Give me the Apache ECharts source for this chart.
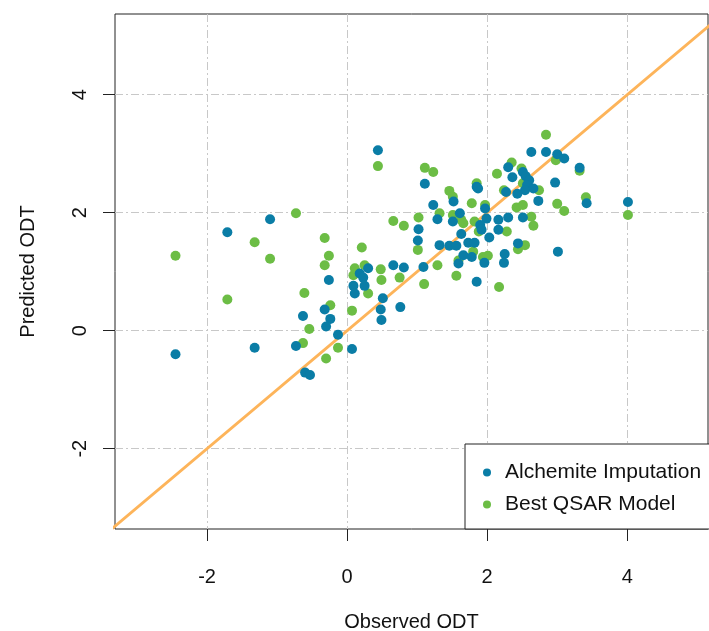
<!DOCTYPE html>
<html>
<head>
<meta charset="utf-8">
<script src="https://cdn.jsdelivr.net/npm/echarts@6/dist/echarts.min.js"></script>
<style>
html,body{margin:0;padding:0;background:#fff;}
#chart{width:709px;height:631px;}
</style>
</head>
<body>
<div id="chart"></div>
<script>
// Alchemite Imputation (observed, predicted)
var alchemiteX = [-2.45,-1.71,-1.32,-1.10,-0.26,-0.32,-0.24,-0.63,-0.30,-0.13,-0.73,-0.60,-0.53,0.07,0.48,0.49,0.76,0.51,0.18,0.23,0.30,0.09,0.11,0.25,0.66,0.81,1.09,1.02,1.01,1.32,1.46,1.56,1.63,1.73,1.82,1.66,1.78,1.59,1.85,0.44,1.11,1.52,1.23,1.29,1.51,1.61,1.85,2.63,2.84,3.00,3.10,3.32,2.30,2.36,2.51,2.55,2.60,2.57,2.97,2.66,2.54,1.87,2.27,2.43,2.73,3.42,4.01,1.97,1.99,2.16,2.30,2.51,2.16,1.90,1.92,2.03,2.44,3.01,2.25,2.24,1.96];
var alchemiteY = [-0.40,1.67,-0.29,1.89,0.86,0.36,0.20,0.25,0.07,-0.07,-0.26,-0.71,-0.75,-0.31,0.36,0.18,0.40,0.55,0.97,0.90,1.06,0.76,0.63,0.76,1.11,1.07,1.08,1.72,1.53,1.45,1.44,1.44,1.64,1.49,1.49,1.28,1.25,1.14,0.83,3.06,2.49,2.19,2.13,1.89,1.85,1.99,2.44,3.03,3.03,2.99,2.92,2.76,2.77,2.60,2.69,2.62,2.55,2.47,2.51,2.41,2.38,2.41,2.35,2.32,2.20,2.16,2.18,2.07,1.90,1.88,1.92,1.92,1.71,1.79,1.71,1.58,1.48,1.34,1.30,1.15,1.15];
// Best QSAR Model (observed, predicted)
var qsarX = [-2.45,-1.71,-1.32,-1.10,-0.73,-0.32,-0.26,-0.32,-0.61,-0.24,-0.54,-0.63,-0.30,-0.13,0.07,0.21,0.11,0.25,0.09,0.30,0.48,0.49,0.75,1.10,1.29,1.01,1.59,1.56,1.80,0.44,1.11,1.23,1.46,1.51,1.32,0.66,0.81,1.02,1.66,1.78,1.85,2.84,2.98,3.32,2.35,2.14,2.49,2.51,2.74,2.24,2.42,2.51,3.00,3.10,3.41,4.01,1.97,2.66,2.63,2.28,1.82,1.51,1.63,2.54,2.44,1.94,2.01,2.17,1.88];
var qsarY = [1.27,0.53,1.50,1.22,1.99,1.57,1.27,1.11,0.64,0.43,0.03,-0.21,-0.47,-0.29,0.34,1.41,1.06,1.11,0.94,0.63,1.04,0.86,0.90,0.79,1.11,1.37,1.19,0.93,1.34,2.79,2.76,2.69,2.37,2.27,1.99,1.86,1.78,1.92,1.82,2.16,2.50,3.32,2.89,2.71,2.85,2.66,2.75,2.50,2.38,2.38,2.09,2.13,2.15,2.03,2.26,1.96,2.13,1.78,1.93,1.68,1.85,1.96,1.88,1.45,1.38,1.25,1.27,0.74,1.68];
// identity reference line y = x
var refLineX = [-4, 6];
var refLineY = [-4, 6];
var tickValues = [-2, 0, 2, 4];
var xName = 'Observed ODT';
var yName = 'Predicted ODT';
var seriesNames = ['Alchemite Imputation', 'Best QSAR Model'];

function pairs(xs, ys) { return xs.map(function (x, i) { return [x, ys[i]]; }); }

var FONT = '"Liberation Sans", Arial, sans-serif';
var gridLine = { show: true, lineStyle: { color: '#c8c8c8', width: 1, type: [8, 3, 2, 3] } };

var chart = echarts.init(document.getElementById('chart'), null, { renderer: 'canvas' });
chart.setOption({
  animation: false,
  backgroundColor: '#fff',
  grid: { left: 115, top: 14, right: 1, bottom: 102, outerBoundsMode: 'none', containLabel: false, show: true, borderColor: '#222', borderWidth: 1, backgroundColor: 'transparent' },
  xAxis: {
    type: 'value', min: -3.314, max: 5.153,
    name: xName, nameLocation: 'middle', nameGap: 83,
    nameTextStyle: { fontFamily: FONT, fontSize: 20, color: '#111' },
    axisLine: { show: false, onZero: false },
    axisTick: { show: true, length: 12, lineStyle: { color: '#222' }, customValues: tickValues },
    axisLabel: { fontFamily: FONT, fontSize: 20, color: '#111', margin: 38, customValues: tickValues },
    splitLine: gridLine
  },
  yAxis: {
    type: 'value', min: -3.361, max: 5.368,
    name: yName, nameLocation: 'middle', nameGap: 77,
    nameTextStyle: { fontFamily: FONT, fontSize: 20, color: '#111' },
    axisLine: { show: false, onZero: false },
    axisTick: { show: true, length: 12, lineStyle: { color: '#222' }, customValues: tickValues },
    axisLabel: { fontFamily: FONT, fontSize: 20, color: '#111', margin: 25, rotate: 90, customValues: tickValues },
    splitLine: gridLine
  },
  legend: {
    data: seriesNames,
    orient: 'vertical', left: 465, top: 444,
    backgroundColor: '#fff', borderColor: '#222', borderWidth: 1,
    padding: [18, 40, 14, 18],
    itemWidth: 26, itemHeight: 8, itemGap: 11,
    icon: 'circle',
    textStyle: { fontFamily: FONT, fontSize: 21, color: '#111', lineHeight: 20 }
  },
  series: [
    {
      type: 'line', data: pairs(refLineX, refLineY), symbol: 'none', silent: true,
      lineStyle: { color: '#FDB45A', width: 3 }, z: 1, clip: true
    },
    {
      name: seriesNames[1], type: 'scatter', data: pairs(qsarX, qsarY),
      symbol: 'circle', symbolSize: 10, itemStyle: { color: '#6CBD45', opacity: 1 }, z: 2
    },
    {
      name: seriesNames[0], type: 'scatter', data: pairs(alchemiteX, alchemiteY),
      symbol: 'circle', symbolSize: 10, itemStyle: { color: '#0A7DA6', opacity: 1 }, z: 3
    }
  ]
});
</script>
</body>
</html>
